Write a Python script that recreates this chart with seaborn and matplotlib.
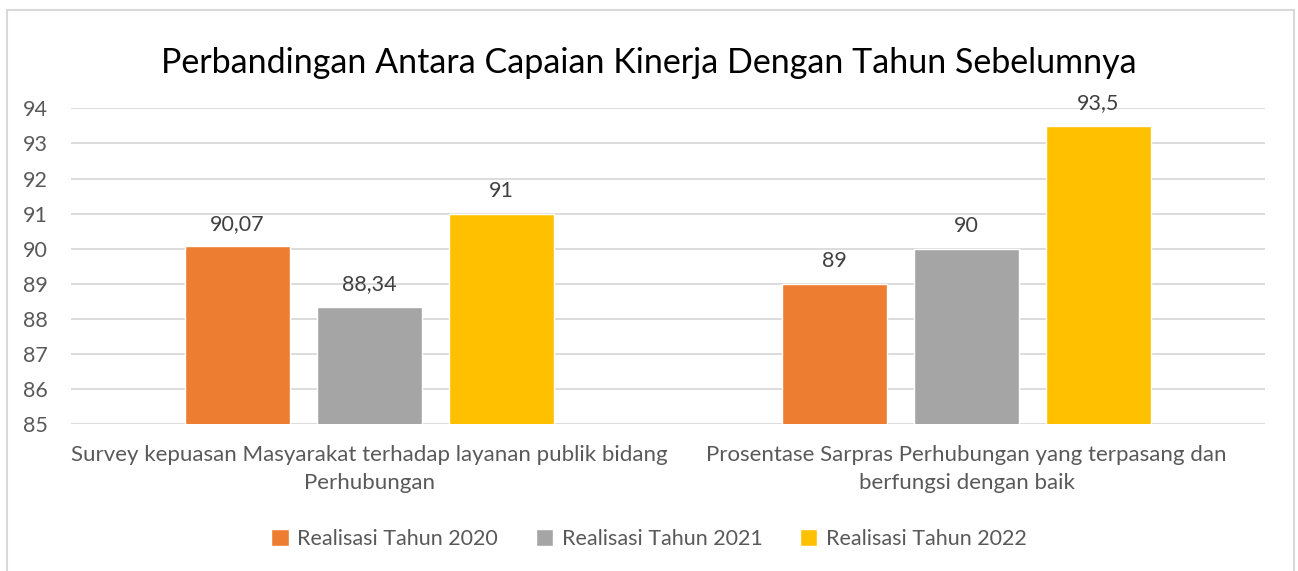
import numpy as np
import pandas as pd
import matplotlib
matplotlib.use("Agg")
import matplotlib.pyplot as plt
import seaborn as sns
from matplotlib.patches import Rectangle


INDIKATOR = [
    "Survey kepuasan Masyarakat terhadap layanan publik bidang\nPerhubungan",
    "Prosentase Sarpras Perhubungan yang terpasang dan\nberfungsi dengan baik",
]
TAHUN = ["Realisasi Tahun 2020", "Realisasi Tahun 2021", "Realisasi Tahun 2022"]
NILAI_2020 = [90.07, 89]
NILAI_2021 = [88.34, 90]
NILAI_2022 = [91, 93.5]
WARNA = ["#ED7D31", "#A5A5A5", "#FFC000"]
Y_TICKS = list(range(85, 95))

TEXT_GRAY = "#595959"
GRID_GRAY = "#D9D9D9"

sns.set_theme(style="whitegrid")
plt.rcParams["font.family"] = ["Lato", "DejaVu Sans"]


def build_frame() -> pd.DataFrame:
    rows = []
    for tahun, nilai in zip(TAHUN, [NILAI_2020, NILAI_2021, NILAI_2022]):
        for ind, v in zip(INDIKATOR, nilai):
            rows.append({"indikator": ind, "tahun": tahun, "nilai": v})
    return pd.DataFrame(rows)


def fmt(v: float) -> str:
    return f"{v:g}".replace(".", ",")


def main() -> None:
    df = build_frame()
    W, H = 1298, 571
    fig = plt.figure(figsize=(W / 100, H / 100), dpi=100)
    ax = fig.add_axes([71 / W, 1 - 424.3 / H, 1194 / W, 316 / H])

    sns.barplot(
        data=df,
        x="indikator",
        y="nilai",
        hue="tahun",
        order=INDIKATOR,
        hue_order=TAHUN,
        palette=WARNA,
        width=0.663,
        gap=0.21,
        saturation=1,
        errorbar=None,
        ax=ax,
    )

    for cont, nilai in zip(ax.containers, [NILAI_2020, NILAI_2021, NILAI_2022]):
        ax.bar_label(cont, labels=[fmt(v) for v in nilai], padding=9,
                     fontsize=15.5, color="#404040")

    ax.set_ylim(85, 94)
    ax.set_xlim(-0.5, 1.5)
    ax.set_yticks(Y_TICKS)
    ax.set_yticklabels([str(t) for t in Y_TICKS])
    ax.set_xticks(range(len(INDIKATOR)))
    ax.set_xticklabels(INDIKATOR, linespacing=1.5)
    ax.tick_params(axis="y", length=0, pad=17, labelsize=15.5, labelcolor=TEXT_GRAY)
    ax.tick_params(axis="x", length=0, pad=15, labelsize=16, labelcolor=TEXT_GRAY)
    ax.set_xlabel("")
    ax.set_ylabel("")
    ax.grid(axis="y", color=GRID_GRAY, linewidth=1.3)
    ax.grid(axis="x", visible=False)
    ax.set_axisbelow(True)
    for s in ax.spines.values():
        s.set_visible(False)

    handles, labels = ax.get_legend_handles_labels()
    ax.get_legend().remove()
    fig.legend(handles, labels, loc="center", bbox_to_anchor=(0.5, 1 - 539 / H),
               ncol=3, frameon=False, fontsize=15.5, labelcolor=TEXT_GRAY,
               handlelength=0.8, handleheight=0.8, handletextpad=0.4,
               columnspacing=1.75)

    fig.text(0.5, 1 - 63 / H, "Perbandingan Antara Capaian Kinerja Dengan Tahun Sebelumnya",
             ha="center", va="center", fontsize=24.5, color="#000000")

    fig.patches.append(Rectangle((7 / W, -0.1), (1294 - 7) / W, 0.1 + 1 - 10 / H,
                                 transform=fig.transFigure, fill=False,
                                 edgecolor=GRID_GRAY, linewidth=1.5))

    fig.savefig("out.png", dpi=100)
    plt.close(fig)


if __name__ == "__main__":
    main()
